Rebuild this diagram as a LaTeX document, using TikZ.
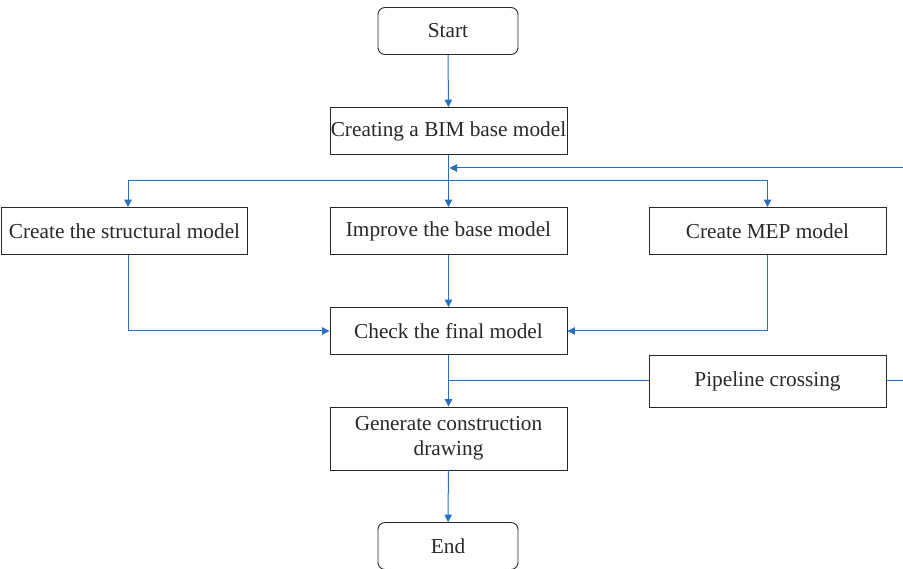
\documentclass[tikz,border=0pt]{standalone}
\usepackage{fontspec}
\setmainfont{Liberation Serif}
\usepackage{xcolor}
\usepackage{tikz}
\usetikzlibrary{arrows.meta,positioning,calc}
\definecolor{ink}{RGB}{40,40,40}
\definecolor{flowblue}{RGB}{38,112,192}
\tikzset{
  flow/.style={flowblue,line width=1pt,-{Triangle[length=7.5pt,width=7.5pt]}},
  plainflow/.style={flowblue,line width=1pt},
  stepbox/.style={draw=ink,line width=0.9pt,minimum width=237pt,minimum height=47pt,
    inner sep=0pt,align=center,font=\fontsize{21.3}{25}\selectfont,text=ink},
  termbox/.style={stepbox,rounded corners=7pt,minimum width=140pt}
}
\begin{document}
\begin{tikzpicture}[x=1pt,y=-1pt]
  \useasboundingbox (0,0) rectangle (903,569);
  \node[termbox] (start) at (448,31) {Start};
  \node[stepbox] (base) at (448.5,131) {Creating a BIM base model};
  \node[stepbox,minimum width=246pt] (struct) at (124.5,231) {Create the structural model};
  \node[stepbox] (improve) at (448.5,231) {Improve the base model};
  \node[stepbox] (mep) at (767.5,231) {Create MEP model};
  \node[stepbox] (check) at (448.5,331) {Check the final model};
  \node[stepbox,minimum height=52pt] (pipe) at (767.5,381) {Pipeline crossing};
  \node[stepbox,minimum height=63pt] (gen) at (448.5,438.5) {Generate construction\\drawing};
  \node[termbox] (end) at (448,546) {End};
  \coordinate (split) at (448.5,181);
  \coordinate (merge) at (448.5,381);
  \coordinate (back) at (903,381);
  \draw[flow] (start) -- (base);
  \draw[flow] (base) -- (improve);
  \draw[flow] (split) -| ([xshift=3.5pt]struct.north);
  \draw[flow] (split) -| (mep);
  \draw[flow] ([xshift=3.5pt]struct.south) |- (check);
  \draw[flow] (mep) |- (check);
  \draw[flow] (improve) -- (check);
  \draw[flow] (check) -- (gen);
  \draw[plainflow] (pipe) -- (merge);
  \draw[flow] (pipe.east) -- (back) -- (903,168) -- (449.5,168);
  \draw[flow] (gen) -- (end);
\end{tikzpicture}
\end{document}
